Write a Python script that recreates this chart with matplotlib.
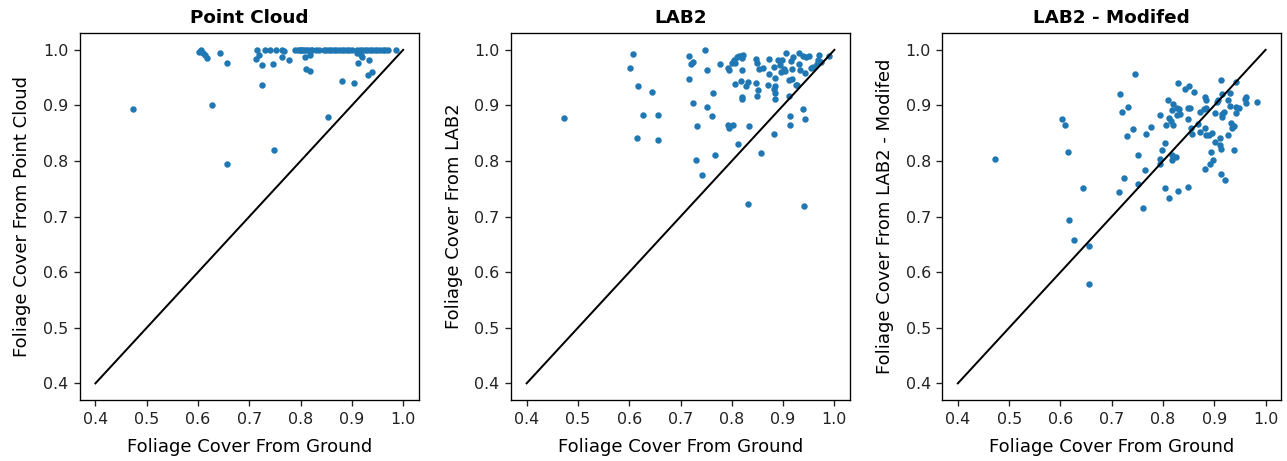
import numpy as np
import matplotlib
matplotlib.use("Agg")
import matplotlib.pyplot as plt

# --- Point Cloud panel ---
pc_ground = [0.473, 0.627, 0.656, 0.749, 0.854, 0.602, 0.606, 0.610, 0.614, 0.617,
             0.643, 0.656, 0.715, 0.714, 0.718, 0.724, 0.724, 0.731, 0.740, 0.746,
             0.753, 0.764, 0.764, 0.768, 0.777,
             0.790, 0.795, 0.798, 0.800, 0.803, 0.807, 0.810, 0.815, 0.820, 0.823,
             0.830, 0.835, 0.845, 0.850, 0.855, 0.860, 0.865, 0.870, 0.875, 0.880,
             0.885, 0.890, 0.895, 0.900, 0.910, 0.915, 0.920, 0.925, 0.930, 0.935,
             0.940, 0.945, 0.950, 0.955, 0.960, 0.965, 0.970, 0.987,
             0.809, 0.810, 0.818, 0.818, 0.881, 0.904, 0.912, 0.918, 0.920, 0.934,
             0.931, 0.939, 0.911]
pc_model = [0.894, 0.901, 0.795, 0.819, 0.879, 0.996, 0.999, 0.994, 0.991, 0.986,
            0.994, 0.976, 1.000, 0.984, 0.991, 0.972, 0.937, 0.999, 0.999, 0.974,
            0.999, 0.999, 0.987, 0.998, 0.982,
            1.000, 0.999, 1.000, 1.000, 0.999, 1.000, 1.000, 1.000, 0.999, 1.000,
            1.000, 1.000, 1.000, 1.000, 1.000, 1.000, 1.000, 1.000, 1.000, 1.000,
            1.000, 1.000, 1.000, 1.000, 1.000, 1.000, 1.000, 1.000, 1.000, 1.000,
            1.000, 1.000, 1.000, 1.000, 1.000, 1.000, 1.000, 1.000,
            0.987, 0.965, 0.962, 0.991, 0.944, 0.941, 0.976, 0.990, 0.988, 0.982,
            0.954, 0.961, 0.995]

# --- LAB2 panel ---
lab2_ground = [0.473, 0.608, 0.602, 0.617, 0.645, 0.627, 0.656, 0.615, 0.656, 0.716,
               0.724, 0.721, 0.716, 0.747, 0.752, 0.724, 0.751, 0.764, 0.761, 0.732,
               0.731, 0.742, 0.767, 0.777, 0.793, 0.795, 0.803, 0.812, 0.831, 0.834,
               0.856, 0.882, 0.941, 0.939, 0.943, 0.913, 0.913, 0.912, 0.989,
               0.793, 0.795, 0.800, 0.804, 0.807, 0.811, 0.815, 0.818, 0.821, 0.819,
               0.820, 0.818, 0.807, 0.819, 0.820, 0.828, 0.831, 0.847, 0.849, 0.848,
               0.851, 0.850, 0.854, 0.860, 0.870, 0.873, 0.873, 0.882, 0.884, 0.882,
               0.884, 0.884, 0.885, 0.891, 0.894, 0.897, 0.896, 0.902, 0.905, 0.904,
               0.911, 0.915, 0.917, 0.920, 0.918, 0.925, 0.927, 0.931, 0.932, 0.933,
               0.939, 0.945, 0.951, 0.942, 0.955, 0.958, 0.966, 0.970, 0.974, 0.968]
lab2_model = [0.878, 0.993, 0.968, 0.935, 0.924, 0.882, 0.882, 0.842, 0.837, 0.989,
              0.978, 0.975, 0.947, 0.999, 0.963, 0.905, 0.897, 0.923, 0.881, 0.863,
              0.801, 0.774, 0.810, 0.974, 0.865, 0.859, 0.864, 0.831, 0.722, 0.863,
              0.815, 0.849, 0.719, 0.894, 0.876, 0.881, 0.864, 0.917, 0.989,
              0.967, 0.964, 0.976, 0.982, 0.976, 0.987, 0.989, 0.989, 0.991, 0.986,
              0.964, 0.944, 0.939, 0.916, 0.911, 0.935, 0.942, 0.983, 0.977, 0.940,
              0.927, 0.917, 0.965, 0.968, 0.937, 0.983, 0.957, 0.969, 0.949, 0.930,
              0.922, 0.912, 0.935, 0.981, 0.973, 0.982, 0.960, 0.965, 0.994, 0.962,
              0.946, 0.980, 0.965, 0.988, 0.948, 0.937, 0.937, 0.995, 0.974, 0.964,
              0.989, 0.987, 0.989, 0.958, 0.968, 0.970, 0.975, 0.991, 0.979, 0.982]

# --- LAB2 - Modified panel ---
mod_ground = [0.473, 0.603, 0.608, 0.614, 0.616, 0.627, 0.644, 0.656, 0.656, 0.745,
              0.716, 0.721, 0.731, 0.742, 0.730, 0.724, 0.715, 0.751, 0.751, 0.764,
              0.761, 0.766, 0.777, 0.794, 0.795, 0.795, 0.799, 0.803, 0.803, 0.811,
              0.810, 0.806, 0.812, 0.816, 0.818, 0.819, 0.819, 0.817, 0.818, 0.826,
              0.830, 0.830, 0.834, 0.842, 0.827, 0.832, 0.828, 0.848, 0.849, 0.851,
              0.849, 0.853, 0.855, 0.857, 0.861, 0.869, 0.872, 0.872, 0.880, 0.882,
              0.884, 0.882, 0.882, 0.884, 0.889, 0.891, 0.893, 0.898, 0.896, 0.901,
              0.901, 0.906, 0.907, 0.913, 0.912, 0.912, 0.913, 0.913, 0.920, 0.915,
              0.915, 0.919, 0.916, 0.926, 0.930, 0.931, 0.927, 0.932, 0.935, 0.939,
              0.942, 0.939, 0.943, 0.943, 0.948, 0.960, 0.961, 0.961, 0.983, 0.884]
mod_model = [0.803, 0.876, 0.864, 0.816, 0.693, 0.658, 0.752, 0.648, 0.578, 0.956,
             0.921, 0.888, 0.897, 0.857, 0.845, 0.770, 0.744, 0.810, 0.759, 0.784,
             0.715, 0.848, 0.862, 0.882, 0.795, 0.803, 0.819, 0.833, 0.752, 0.733,
             0.910, 0.864, 0.877, 0.872, 0.891, 0.903, 0.865, 0.811, 0.801, 0.807,
             0.746, 0.941, 0.885, 0.930, 0.895, 0.894, 0.883, 0.876, 0.753, 0.935,
             0.895, 0.896, 0.860, 0.849, 0.924, 0.866, 0.888, 0.852, 0.894, 0.916,
             0.910, 0.859, 0.785, 0.847, 0.847, 0.794, 0.816, 0.801, 0.850, 0.834,
             0.887, 0.906, 0.910, 0.945, 0.842, 0.828, 0.821, 0.777, 0.765, 0.920,
             0.885, 0.888, 0.880, 0.910, 0.923, 0.899, 0.847, 0.868, 0.860, 0.863,
             0.887, 0.819, 0.942, 0.897, 0.896, 0.911, 0.916, 0.905, 0.906, 0.895]

titles = ["Point Cloud", "LAB2", "LAB2 - Modifed"]
ylabels = ["Foliage Cover From Point Cloud", "Foliage Cover From LAB2",
           "Foliage Cover From LAB2 - Modifed"]
ticks = [0.4, 0.5, 0.6, 0.7, 0.8, 0.9, 1.0]
panels = [(pc_ground, pc_model), (lab2_ground, lab2_model), (mod_ground, mod_model)]

fig, axes = plt.subplots(1, 3, figsize=(1287 / 120, 461 / 120), dpi=120)
fig.subplots_adjust(left=0.0622, right=0.9953, bottom=0.1323, top=0.928, wspace=0.274)

for ax, (gx, my), title, ylab in zip(axes, panels, titles, ylabels):
    ax.scatter(gx, my, s=8, color="tab:blue")
    ax.plot([0.4, 1.0], [0.4, 1.0], color="black", linewidth=1.2)
    ax.set_title(title, fontweight="bold", fontsize=11)
    ax.set_xlabel("Foliage Cover From Ground", fontsize=10.8, labelpad=7)
    ax.set_ylabel(ylab, fontsize=10.8, labelpad=7)
    ax.set_xticks(ticks)
    ax.set_yticks(ticks)
    ax.tick_params(labelsize=9.5, colors="#222222", labelcolor="#222222")
    ax.set_xlim(0.37, 1.03)
    ax.set_ylim(0.37, 1.03)

fig.savefig("out.png", dpi=120)
